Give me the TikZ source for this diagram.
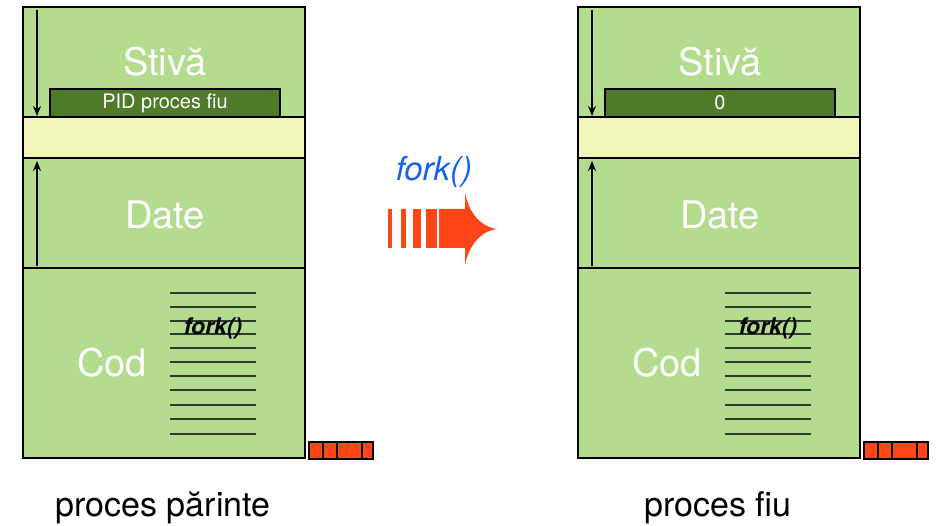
\documentclass[tikz,border=0pt]{standalone}
\usepackage{fontspec}
\setmainfont{TeX Gyre Heros}
\usepackage{tikz}
\usetikzlibrary{arrows.meta, positioning}
\usepackage{xcolor}
\definecolor{cMem}{RGB}{179,220,143}
\definecolor{cFree}{RGB}{243,246,187}
\definecolor{cPid}{RGB}{78,122,42}
\definecolor{cFork}{RGB}{255,69,21}
\definecolor{cCall}{RGB}{21,96,240}
\definecolor{cLine}{RGB}{45,60,40}
\tikzset{
  segbox/.style={rectangle, draw=black, line width=2pt, fill=cMem,
                 minimum width=282pt, inner sep=0pt},
  freebox/.style={segbox, fill=cFree},
  pidbox/.style={rectangle, draw=black, line width=1.5pt, fill=cPid,
                 text=white, minimum width=230pt, minimum height=28pt,
                 inner sep=0pt, font=\fontsize{20}{22}\selectfont},
  seglabel/.style={text=white, font=\fontsize{38}{42}\selectfont},
  codelabel/.style={font=\bfseries\itshape\fontsize{23}{26}\selectfont},
  calllabel/.style={text=cCall, font=\itshape\fontsize{33}{36}\selectfont},
  caption/.style={anchor=base, font=\fontsize{34}{38}\selectfont},
  growarrow/.style={-{Stealth[length=10pt,width=8pt]}, line width=1.2pt},
  codeline/.style={line width=1.4pt, color=cLine},
  pccell/.style={draw=black, line width=1.5pt, fill=cFork}
}

\begin{document}
\begin{tikzpicture}[x=1pt, y=-1pt]
  \useasboundingbox (0,0) rectangle (940,526);

  % proces parinte
  \node[segbox, minimum height=110pt] (pstack) at (164,62) {};
  \node[freebox, minimum height=41pt] (pfree) at (164,137.5) {};
  \node[segbox, minimum height=110pt] (pdata) at (164,213) {};
  \node[segbox, minimum height=190pt] (pcode) at (164,363) {};
  \node[seglabel] (pstacktxt) at (165,62) {Stivă};
  \node[pidbox] (ppid) at (165,103) {PID proces fiu};
  \node[seglabel] (pdatatxt) at (165,215) {Date};
  \node[seglabel] (pcodetxt) at (112,363) {Cod};
  \foreach \y in {293,307,321,334,348,362,376,390,405,419,434}
    \draw[codeline] (170,\y) -- (256,\y);
  \node[codelabel] (pforkcall) at (213,328) {fork()};
  \coordinate (pdownA) at (37,10);
  \coordinate (pdownB) at (37,116);
  \coordinate (pupA) at (37,266);
  \coordinate (pupB) at (37,161);
  \draw[growarrow] (pdownA) -- (pdownB);
  \draw[growarrow] (pupA) -- (pupB);
  \foreach \a/\b in {309/323, 323/337, 337/362, 362/373}
    \draw[pccell] (\a,442) rectangle (\b,459);
  \node[caption] (pname) at (163,516) {proces părinte};

  % apelul fork
  \node[calllabel] (forkcall) at (434,172) {fork()};
  \foreach \a/\b in {388/392, 401/405.5, 413/420.5, 426/436.5}
    \fill[cFork] (\a,209) rectangle (\b,248);
  \fill[cFork] (439,209) -- (465,209) -- (465,193)
    .. controls (469,213) and (481,227) .. (497,229)
    .. controls (481,231) and (469,245) .. (465,265)
    -- (465,248) -- (439,248) -- cycle;

  % proces fiu
  \node[segbox, minimum height=110pt] (cstack) at (719,62) {};
  \node[freebox, minimum height=41pt] (cfree) at (719,137.5) {};
  \node[segbox, minimum height=110pt] (cdata) at (719,213) {};
  \node[segbox, minimum height=190pt] (ccode) at (719,363) {};
  \node[seglabel] (cstacktxt) at (720,62) {Stivă};
  \node[pidbox] (cpid) at (720,103) {0};
  \node[seglabel] (cdatatxt) at (720,215) {Date};
  \node[seglabel] (ccodetxt) at (667,363) {Cod};
  \foreach \y in {293,307,321,334,348,362,376,390,405,419,434}
    \draw[codeline] (725,\y) -- (811,\y);
  \node[codelabel] (cforkcall) at (768,328) {fork()};
  \coordinate (cdownA) at (592,10);
  \coordinate (cdownB) at (592,116);
  \coordinate (cupA) at (592,266);
  \coordinate (cupB) at (592,161);
  \draw[growarrow] (cdownA) -- (cdownB);
  \draw[growarrow] (cupA) -- (cupB);
  \foreach \a/\b in {864/878, 878/892, 892/917, 917/928}
    \draw[pccell] (\a,442) rectangle (\b,459);
  \node[caption] (cname) at (718,516) {proces fiu};
\end{tikzpicture}
\end{document}
